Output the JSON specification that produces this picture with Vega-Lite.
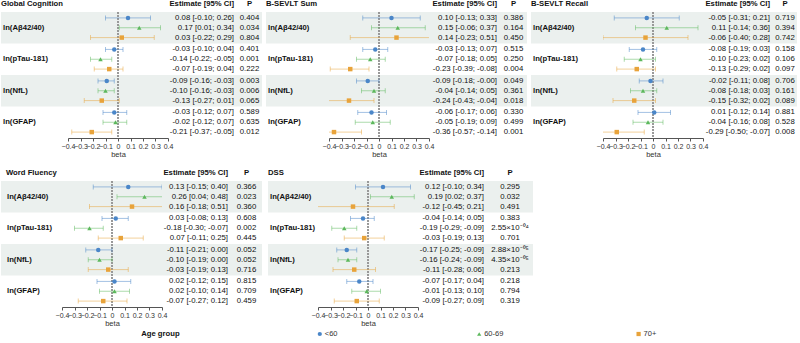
{
"$schema": "https://vega.github.io/schema/vega-lite/v6.json",
"padding": {"left": 1, "top": 0, "right": 0, "bottom": 0},
"data": {"values": [
{"panel":"Global Cognition","marker":"ln(Aβ42/40)","age":"<60","est":0.08,"lo":-0.10,"hi":0.26,"ci":"0.08 [-0.10; 0.26]","p":"0.404"},
{"panel":"Global Cognition","marker":"ln(Aβ42/40)","age":"60-69","est":0.17,"lo":0.01,"hi":0.34,"ci":"0.17 [0.01; 0.34]","p":"0.034"},
{"panel":"Global Cognition","marker":"ln(Aβ42/40)","age":"70+","est":0.03,"lo":-0.22,"hi":0.29,"ci":"0.03 [-0.22; 0.29]","p":"0.804"},
{"panel":"Global Cognition","marker":"ln(pTau-181)","age":"<60","est":-0.03,"lo":-0.10,"hi":0.04,"ci":"-0.03 [-0.10; 0.04]","p":"0.401"},
{"panel":"Global Cognition","marker":"ln(pTau-181)","age":"60-69","est":-0.14,"lo":-0.22,"hi":-0.05,"ci":"-0.14 [-0.22; -0.05]","p":"0.001"},
{"panel":"Global Cognition","marker":"ln(pTau-181)","age":"70+","est":-0.07,"lo":-0.19,"hi":0.04,"ci":"-0.07 [-0.19; 0.04]","p":"0.222"},
{"panel":"Global Cognition","marker":"ln(NfL)","age":"<60","est":-0.09,"lo":-0.16,"hi":-0.03,"ci":"-0.09 [-0.16; -0.03]","p":"0.003"},
{"panel":"Global Cognition","marker":"ln(NfL)","age":"60-69","est":-0.10,"lo":-0.16,"hi":-0.03,"ci":"-0.10 [-0.16; -0.03]","p":"0.006"},
{"panel":"Global Cognition","marker":"ln(NfL)","age":"70+","est":-0.13,"lo":-0.27,"hi":0.01,"ci":"-0.13 [-0.27; 0.01]","p":"0.065"},
{"panel":"Global Cognition","marker":"ln(GFAP)","age":"<60","est":-0.03,"lo":-0.12,"hi":0.07,"ci":"-0.03 [-0.12; 0.07]","p":"0.589"},
{"panel":"Global Cognition","marker":"ln(GFAP)","age":"60-69","est":-0.02,"lo":-0.12,"hi":0.07,"ci":"-0.02 [-0.12; 0.07]","p":"0.635"},
{"panel":"Global Cognition","marker":"ln(GFAP)","age":"70+","est":-0.21,"lo":-0.37,"hi":-0.05,"ci":"-0.21 [-0.37; -0.05]","p":"0.012"},
{"panel":"B-SEVLT Sum","marker":"ln(Aβ42/40)","age":"<60","est":0.10,"lo":-0.13,"hi":0.33,"ci":"0.10 [-0.13; 0.33]","p":"0.386"},
{"panel":"B-SEVLT Sum","marker":"ln(Aβ42/40)","age":"60-69","est":0.15,"lo":-0.06,"hi":0.37,"ci":"0.15 [-0.06; 0.37]","p":"0.164"},
{"panel":"B-SEVLT Sum","marker":"ln(Aβ42/40)","age":"70+","est":0.14,"lo":-0.23,"hi":0.51,"ci":"0.14 [-0.23; 0.51]","p":"0.450"},
{"panel":"B-SEVLT Sum","marker":"ln(pTau-181)","age":"<60","est":-0.03,"lo":-0.13,"hi":0.07,"ci":"-0.03 [-0.13; 0.07]","p":"0.515"},
{"panel":"B-SEVLT Sum","marker":"ln(pTau-181)","age":"60-69","est":-0.07,"lo":-0.18,"hi":0.05,"ci":"-0.07 [-0.18; 0.05]","p":"0.250"},
{"panel":"B-SEVLT Sum","marker":"ln(pTau-181)","age":"70+","est":-0.23,"lo":-0.39,"hi":-0.08,"ci":"-0.23 [-0.39; -0.08]","p":"0.004"},
{"panel":"B-SEVLT Sum","marker":"ln(NfL)","age":"<60","est":-0.09,"lo":-0.18,"hi":-0.00,"ci":"-0.09 [-0.18; -0.00]","p":"0.049"},
{"panel":"B-SEVLT Sum","marker":"ln(NfL)","age":"60-69","est":-0.04,"lo":-0.14,"hi":0.05,"ci":"-0.04 [-0.14; 0.05]","p":"0.361"},
{"panel":"B-SEVLT Sum","marker":"ln(NfL)","age":"70+","est":-0.24,"lo":-0.43,"hi":-0.04,"ci":"-0.24 [-0.43; -0.04]","p":"0.018"},
{"panel":"B-SEVLT Sum","marker":"ln(GFAP)","age":"<60","est":-0.06,"lo":-0.17,"hi":0.06,"ci":"-0.06 [-0.17; 0.06]","p":"0.330"},
{"panel":"B-SEVLT Sum","marker":"ln(GFAP)","age":"60-69","est":-0.05,"lo":-0.19,"hi":0.09,"ci":"-0.05 [-0.19; 0.09]","p":"0.499"},
{"panel":"B-SEVLT Sum","marker":"ln(GFAP)","age":"70+","est":-0.36,"lo":-0.57,"hi":-0.14,"ci":"-0.36 [-0.57; -0.14]","p":"0.001"},
{"panel":"B-SEVLT Recall","marker":"ln(Aβ42/40)","age":"<60","est":-0.05,"lo":-0.31,"hi":0.21,"ci":"-0.05 [-0.31; 0.21]","p":"0.719"},
{"panel":"B-SEVLT Recall","marker":"ln(Aβ42/40)","age":"60-69","est":0.11,"lo":-0.14,"hi":0.36,"ci":"0.11 [-0.14; 0.36]","p":"0.394"},
{"panel":"B-SEVLT Recall","marker":"ln(Aβ42/40)","age":"70+","est":-0.06,"lo":-0.40,"hi":0.28,"ci":"-0.06 [-0.40; 0.28]","p":"0.742"},
{"panel":"B-SEVLT Recall","marker":"ln(pTau-181)","age":"<60","est":-0.08,"lo":-0.19,"hi":0.03,"ci":"-0.08 [-0.19; 0.03]","p":"0.158"},
{"panel":"B-SEVLT Recall","marker":"ln(pTau-181)","age":"60-69","est":-0.10,"lo":-0.23,"hi":0.02,"ci":"-0.10 [-0.23; 0.02]","p":"0.106"},
{"panel":"B-SEVLT Recall","marker":"ln(pTau-181)","age":"70+","est":-0.13,"lo":-0.29,"hi":0.02,"ci":"-0.13 [-0.29; 0.02]","p":"0.097"},
{"panel":"B-SEVLT Recall","marker":"ln(NfL)","age":"<60","est":-0.02,"lo":-0.11,"hi":0.08,"ci":"-0.02 [-0.11; 0.08]","p":"0.706"},
{"panel":"B-SEVLT Recall","marker":"ln(NfL)","age":"60-69","est":-0.08,"lo":-0.18,"hi":0.03,"ci":"-0.08 [-0.18; 0.03]","p":"0.161"},
{"panel":"B-SEVLT Recall","marker":"ln(NfL)","age":"70+","est":-0.15,"lo":-0.32,"hi":0.02,"ci":"-0.15 [-0.32; 0.02]","p":"0.089"},
{"panel":"B-SEVLT Recall","marker":"ln(GFAP)","age":"<60","est":0.01,"lo":-0.12,"hi":0.14,"ci":"0.01 [-0.12; 0.14]","p":"0.881"},
{"panel":"B-SEVLT Recall","marker":"ln(GFAP)","age":"60-69","est":-0.04,"lo":-0.16,"hi":0.08,"ci":"-0.04 [-0.16; 0.08]","p":"0.528"},
{"panel":"B-SEVLT Recall","marker":"ln(GFAP)","age":"70+","est":-0.29,"lo":-0.50,"hi":-0.07,"ci":"-0.29 [-0.50; -0.07]","p":"0.008"},
{"panel":"Word Fluency","marker":"ln(Aβ42/40)","age":"<60","est":0.13,"lo":-0.15,"hi":0.40,"ci":"0.13 [-0.15; 0.40]","p":"0.366"},
{"panel":"Word Fluency","marker":"ln(Aβ42/40)","age":"60-69","est":0.26,"lo":0.04,"hi":0.48,"ci":"0.26 [0.04; 0.48]","p":"0.023"},
{"panel":"Word Fluency","marker":"ln(Aβ42/40)","age":"70+","est":0.16,"lo":-0.18,"hi":0.51,"ci":"0.16 [-0.18; 0.51]","p":"0.360"},
{"panel":"Word Fluency","marker":"ln(pTau-181)","age":"<60","est":0.03,"lo":-0.08,"hi":0.13,"ci":"0.03 [-0.08; 0.13]","p":"0.608"},
{"panel":"Word Fluency","marker":"ln(pTau-181)","age":"60-69","est":-0.18,"lo":-0.30,"hi":-0.07,"ci":"-0.18 [-0.30; -0.07]","p":"0.002"},
{"panel":"Word Fluency","marker":"ln(pTau-181)","age":"70+","est":0.07,"lo":-0.11,"hi":0.25,"ci":"0.07 [-0.11; 0.25]","p":"0.445"},
{"panel":"Word Fluency","marker":"ln(NfL)","age":"<60","est":-0.11,"lo":-0.21,"hi":0.00,"ci":"-0.11 [-0.21; 0.00]","p":"0.052"},
{"panel":"Word Fluency","marker":"ln(NfL)","age":"60-69","est":-0.10,"lo":-0.19,"hi":0.00,"ci":"-0.10 [-0.19; 0.00]","p":"0.052"},
{"panel":"Word Fluency","marker":"ln(NfL)","age":"70+","est":-0.03,"lo":-0.19,"hi":0.13,"ci":"-0.03 [-0.19; 0.13]","p":"0.716"},
{"panel":"Word Fluency","marker":"ln(GFAP)","age":"<60","est":0.02,"lo":-0.12,"hi":0.15,"ci":"0.02 [-0.12; 0.15]","p":"0.815"},
{"panel":"Word Fluency","marker":"ln(GFAP)","age":"60-69","est":0.02,"lo":-0.10,"hi":0.14,"ci":"0.02 [-0.10; 0.14]","p":"0.709"},
{"panel":"Word Fluency","marker":"ln(GFAP)","age":"70+","est":-0.07,"lo":-0.27,"hi":0.12,"ci":"-0.07 [-0.27; 0.12]","p":"0.459"},
{"panel":"DSS","marker":"ln(Aβ42/40)","age":"<60","est":0.12,"lo":-0.10,"hi":0.34,"ci":"0.12 [-0.10; 0.34]","p":"0.295"},
{"panel":"DSS","marker":"ln(Aβ42/40)","age":"60-69","est":0.19,"lo":0.02,"hi":0.37,"ci":"0.19 [0.02; 0.37]","p":"0.032"},
{"panel":"DSS","marker":"ln(Aβ42/40)","age":"70+","est":-0.12,"lo":-0.45,"hi":0.21,"ci":"-0.12 [-0.45; 0.21]","p":"0.491"},
{"panel":"DSS","marker":"ln(pTau-181)","age":"<60","est":-0.04,"lo":-0.14,"hi":0.05,"ci":"-0.04 [-0.14; 0.05]","p":"0.383"},
{"panel":"DSS","marker":"ln(pTau-181)","age":"60-69","est":-0.19,"lo":-0.29,"hi":-0.09,"ci":"-0.19 [-0.29; -0.09]","p":"2.55×10⁻⁰⁴"},
{"panel":"DSS","marker":"ln(pTau-181)","age":"70+","est":-0.03,"lo":-0.19,"hi":0.13,"ci":"-0.03 [-0.19; 0.13]","p":"0.701"},
{"panel":"DSS","marker":"ln(NfL)","age":"<60","est":-0.17,"lo":-0.25,"hi":-0.09,"ci":"-0.17 [-0.25; -0.09]","p":"2.88×10⁻⁰⁵"},
{"panel":"DSS","marker":"ln(NfL)","age":"60-69","est":-0.16,"lo":-0.24,"hi":-0.09,"ci":"-0.16 [-0.24; -0.09]","p":"4.35×10⁻⁰⁵"},
{"panel":"DSS","marker":"ln(NfL)","age":"70+","est":-0.11,"lo":-0.28,"hi":0.06,"ci":"-0.11 [-0.28; 0.06]","p":"0.213"},
{"panel":"DSS","marker":"ln(GFAP)","age":"<60","est":-0.07,"lo":-0.17,"hi":0.04,"ci":"-0.07 [-0.17; 0.04]","p":"0.218"},
{"panel":"DSS","marker":"ln(GFAP)","age":"60-69","est":-0.01,"lo":-0.13,"hi":0.10,"ci":"-0.01 [-0.13; 0.10]","p":"0.794"},
{"panel":"DSS","marker":"ln(GFAP)","age":"70+","est":-0.09,"lo":-0.27,"hi":0.09,"ci":"-0.09 [-0.27; 0.09]","p":"0.319"}
]},
"spacing": 2,
"vconcat": [
{"spacing": 11, "vconcat": [
{"spacing": 4, "hconcat": [
 {"spacing": 0, "bounds": "flush", "hconcat": [
  {"width": 67, "height": 126, "title": {"text": "Global Cognition", "anchor": "start"},
   "transform": [{"filter": "datum.panel === 'Global Cognition' && datum.age === '60-69'"}],
   "layer": [
    {"transform": [{"filter": "datum.marker === 'ln(Aβ42/40)' || datum.marker === 'ln(NfL)'"}], "mark": {"type": "rect", "color": "#ebf0ee"},
     "encoding": {"x": {"datum": 0, "type": "quantitative", "scale": {"domain": [0, 1]}, "axis": null}, "x2": {"datum": 1}, "y": {"field": "marker", "type": "nominal", "scale": {"type": "band", "domain": ["ln(Aβ42/40)", "ln(pTau-181)", "ln(NfL)", "ln(GFAP)"], "paddingInner": 0, "paddingOuter": 0}, "axis": null}}},
    {"mark": {"type": "text", "align": "left", "dx": 2, "fontWeight": "bold", "fontSize": 7.7, "color": "#111"},
     "encoding": {"x": {"datum": 0, "type": "quantitative", "scale": {"domain": [0, 1]}, "axis": null}, "y": {"field": "marker", "type": "nominal", "scale": {"type": "band", "domain": ["ln(Aβ42/40)", "ln(pTau-181)", "ln(NfL)", "ln(GFAP)"], "paddingInner": 0, "paddingOuter": 0}, "axis": null}, "text": {"field": "marker"}}}
   ]},
  {"width": 100, "height": 126, "transform": [{"filter": "datum.panel === 'Global Cognition'"}],
   "layer": [
    {"transform": [{"filter": "datum.age === '<60' && (datum.marker === 'ln(Aβ42/40)' || datum.marker === 'ln(NfL)')"}], "mark": {"type": "rect", "color": "#ebf0ee"},
     "encoding": {"x": {"datum": -0.4, "type": "quantitative", "scale": {"domain": [-0.4, 0.4], "nice": false, "zero": false}, "axis": {"values": [-0.4, -0.3, -0.2, -0.1, 0, 0.1, 0.2, 0.3, 0.4], "title": "beta"}}, "x2": {"datum": 0.4}, "y": {"field": "marker", "type": "nominal", "scale": {"type": "band", "domain": ["ln(Aβ42/40)", "ln(pTau-181)", "ln(NfL)", "ln(GFAP)"], "paddingInner": 0, "paddingOuter": 0}, "axis": null}}},
    {"mark": {"type": "rule", "color": "#999", "strokeDash": [1.5, 1.5], "strokeWidth": 0.9}, "encoding": {"x": {"datum": 0, "type": "quantitative", "scale": {"domain": [-0.4, 0.4], "nice": false, "zero": false}, "axis": {"values": [-0.4, -0.3, -0.2, -0.1, 0, 0.1, 0.2, 0.3, 0.4], "title": "beta"}}}},
    {"mark": {"type": "rule", "clip": true, "opacity": 0.5, "strokeWidth": 1},
     "encoding": {"x": {"field": "lo", "type": "quantitative", "scale": {"domain": [-0.4, 0.4], "nice": false, "zero": false}, "axis": {"values": [-0.4, -0.3, -0.2, -0.1, 0, 0.1, 0.2, 0.3, 0.4], "title": "beta"}}, "x2": {"field": "hi"},
      "y": {"field": "marker", "type": "nominal", "scale": {"type": "band", "domain": ["ln(Aβ42/40)", "ln(pTau-181)", "ln(NfL)", "ln(GFAP)"], "paddingInner": 0, "paddingOuter": 0}, "axis": null},
      "yOffset": {"field": "age", "type": "nominal", "scale": {"domain": ["<60", "60-69", "70+"], "paddingOuter": 0.1}},
      "stroke": {"field": "age", "type": "nominal", "scale": {"domain": ["<60", "60-69", "70+"], "range": ["#4a86c8", "#5cb85c", "#e8a33a"]}, "legend": null}}},
    {"mark": {"type": "tick", "clip": true, "opacity": 0.5, "thickness": 1, "size": 5},
     "encoding": {"x": {"field": "lo", "type": "quantitative", "scale": {"domain": [-0.4, 0.4], "nice": false, "zero": false}, "axis": {"values": [-0.4, -0.3, -0.2, -0.1, 0, 0.1, 0.2, 0.3, 0.4], "title": "beta"}}, "y": {"field": "marker", "type": "nominal", "scale": {"type": "band", "domain": ["ln(Aβ42/40)", "ln(pTau-181)", "ln(NfL)", "ln(GFAP)"], "paddingInner": 0, "paddingOuter": 0}, "axis": null},
      "yOffset": {"field": "age", "type": "nominal"}, "fill": {"field": "age", "type": "nominal", "scale": {"domain": ["<60", "60-69", "70+"], "range": ["#4a86c8", "#5cb85c", "#e8a33a"]}, "legend": null}}},
    {"mark": {"type": "tick", "clip": true, "opacity": 0.5, "thickness": 1, "size": 5},
     "encoding": {"x": {"field": "hi", "type": "quantitative", "scale": {"domain": [-0.4, 0.4], "nice": false, "zero": false}, "axis": {"values": [-0.4, -0.3, -0.2, -0.1, 0, 0.1, 0.2, 0.3, 0.4], "title": "beta"}}, "y": {"field": "marker", "type": "nominal", "scale": {"type": "band", "domain": ["ln(Aβ42/40)", "ln(pTau-181)", "ln(NfL)", "ln(GFAP)"], "paddingInner": 0, "paddingOuter": 0}, "axis": null},
      "yOffset": {"field": "age", "type": "nominal"}, "fill": {"field": "age", "type": "nominal", "legend": null}}},
    {"mark": {"type": "point", "filled": true, "opacity": 1, "size": 20},
     "encoding": {"x": {"field": "est", "type": "quantitative", "scale": {"domain": [-0.4, 0.4], "nice": false, "zero": false}, "axis": {"values": [-0.4, -0.3, -0.2, -0.1, 0, 0.1, 0.2, 0.3, 0.4], "title": "beta"}}, "y": {"field": "marker", "type": "nominal", "scale": {"type": "band", "domain": ["ln(Aβ42/40)", "ln(pTau-181)", "ln(NfL)", "ln(GFAP)"], "paddingInner": 0, "paddingOuter": 0}, "axis": null},
      "yOffset": {"field": "age", "type": "nominal"},
      "color": {"field": "age", "type": "nominal", "scale": {"domain": ["<60", "60-69", "70+"], "range": ["#4a86c8", "#5cb85c", "#e8a33a"]}, "legend": null},
      "shape": {"field": "age", "type": "nominal", "scale": {"domain": ["<60", "60-69", "70+"], "range": ["circle", "triangle-up", "square"]}, "legend": null}}}
   ]},
  {"width": 69, "height": 126, "title": {"text": "Estimate [95% CI]", "anchor": "end", "dx": -3}, "transform": [{"filter": "datum.panel === 'Global Cognition'"}],
   "layer": [
    {"transform": [{"filter": "datum.age === '<60' && (datum.marker === 'ln(Aβ42/40)' || datum.marker === 'ln(NfL)')"}], "mark": {"type": "rect", "color": "#ebf0ee"},
     "encoding": {"x": {"datum": 0, "type": "quantitative", "scale": {"domain": [0, 1]}, "axis": null}, "x2": {"datum": 1}, "y": {"field": "marker", "type": "nominal", "scale": {"type": "band", "domain": ["ln(Aβ42/40)", "ln(pTau-181)", "ln(NfL)", "ln(GFAP)"], "paddingInner": 0, "paddingOuter": 0}, "axis": null}}},
    {"mark": {"type": "text", "align": "right", "dx": -3, "fontSize": 7.8, "color": "#111"},
     "encoding": {"x": {"datum": 1, "type": "quantitative", "scale": {"domain": [0, 1]}, "axis": null}, "y": {"field": "marker", "type": "nominal", "scale": {"type": "band", "domain": ["ln(Aβ42/40)", "ln(pTau-181)", "ln(NfL)", "ln(GFAP)"], "paddingInner": 0, "paddingOuter": 0}, "axis": null}, "yOffset": {"field": "age", "type": "nominal"}, "text": {"field": "ci"}}}
   ]},
  {"width": 25, "height": 126, "title": {"text": "P", "anchor": "middle"}, "transform": [{"filter": "datum.panel === 'Global Cognition'"}],
   "layer": [
    {"transform": [{"filter": "datum.age === '<60' && (datum.marker === 'ln(Aβ42/40)' || datum.marker === 'ln(NfL)')"}], "mark": {"type": "rect", "color": "#ebf0ee"},
     "encoding": {"x": {"datum": 0, "type": "quantitative", "scale": {"domain": [0, 1]}, "axis": null}, "x2": {"datum": 1}, "y": {"field": "marker", "type": "nominal", "scale": {"type": "band", "domain": ["ln(Aβ42/40)", "ln(pTau-181)", "ln(NfL)", "ln(GFAP)"], "paddingInner": 0, "paddingOuter": 0}, "axis": null}}},
    {"mark": {"type": "text", "align": "center", "fontSize": 7.8, "color": "#111"},
     "encoding": {"x": {"datum": 0.5, "type": "quantitative", "scale": {"domain": [0, 1]}, "axis": null}, "y": {"field": "marker", "type": "nominal", "scale": {"type": "band", "domain": ["ln(Aβ42/40)", "ln(pTau-181)", "ln(NfL)", "ln(GFAP)"], "paddingInner": 0, "paddingOuter": 0}, "axis": null}, "yOffset": {"field": "age", "type": "nominal"}, "text": {"field": "p"}}}
   ]}
 ]},
 {"spacing": 0, "bounds": "flush", "hconcat": [
  {"width": 63, "height": 126, "title": {"text": "B-SEVLT Sum", "anchor": "start"},
   "transform": [{"filter": "datum.panel === 'B-SEVLT Sum' && datum.age === '60-69'"}],
   "layer": [
    {"transform": [{"filter": "datum.marker === 'ln(Aβ42/40)' || datum.marker === 'ln(NfL)'"}], "mark": {"type": "rect", "color": "#ebf0ee"},
     "encoding": {"x": {"datum": 0, "type": "quantitative", "scale": {"domain": [0, 1]}, "axis": null}, "x2": {"datum": 1}, "y": {"field": "marker", "type": "nominal", "scale": {"type": "band", "domain": ["ln(Aβ42/40)", "ln(pTau-181)", "ln(NfL)", "ln(GFAP)"], "paddingInner": 0, "paddingOuter": 0}, "axis": null}}},
    {"mark": {"type": "text", "align": "left", "dx": 2, "fontWeight": "bold", "fontSize": 7.7, "color": "#111"},
     "encoding": {"x": {"datum": 0, "type": "quantitative", "scale": {"domain": [0, 1]}, "axis": null}, "y": {"field": "marker", "type": "nominal", "scale": {"type": "band", "domain": ["ln(Aβ42/40)", "ln(pTau-181)", "ln(NfL)", "ln(GFAP)"], "paddingInner": 0, "paddingOuter": 0}, "axis": null}, "text": {"field": "marker"}}}
   ]},
  {"width": 100, "height": 126, "transform": [{"filter": "datum.panel === 'B-SEVLT Sum'"}],
   "layer": [
    {"transform": [{"filter": "datum.age === '<60' && (datum.marker === 'ln(Aβ42/40)' || datum.marker === 'ln(NfL)')"}], "mark": {"type": "rect", "color": "#ebf0ee"},
     "encoding": {"x": {"datum": -0.4, "type": "quantitative", "scale": {"domain": [-0.4, 0.4], "nice": false, "zero": false}, "axis": {"values": [-0.4, -0.3, -0.2, -0.1, 0, 0.1, 0.2, 0.3, 0.4], "title": "beta"}}, "x2": {"datum": 0.4}, "y": {"field": "marker", "type": "nominal", "scale": {"type": "band", "domain": ["ln(Aβ42/40)", "ln(pTau-181)", "ln(NfL)", "ln(GFAP)"], "paddingInner": 0, "paddingOuter": 0}, "axis": null}}},
    {"mark": {"type": "rule", "color": "#999", "strokeDash": [1.5, 1.5], "strokeWidth": 0.9}, "encoding": {"x": {"datum": 0, "type": "quantitative", "scale": {"domain": [-0.4, 0.4], "nice": false, "zero": false}, "axis": {"values": [-0.4, -0.3, -0.2, -0.1, 0, 0.1, 0.2, 0.3, 0.4], "title": "beta"}}}},
    {"mark": {"type": "rule", "clip": true, "opacity": 0.5, "strokeWidth": 1},
     "encoding": {"x": {"field": "lo", "type": "quantitative", "scale": {"domain": [-0.4, 0.4], "nice": false, "zero": false}, "axis": {"values": [-0.4, -0.3, -0.2, -0.1, 0, 0.1, 0.2, 0.3, 0.4], "title": "beta"}}, "x2": {"field": "hi"},
      "y": {"field": "marker", "type": "nominal", "scale": {"type": "band", "domain": ["ln(Aβ42/40)", "ln(pTau-181)", "ln(NfL)", "ln(GFAP)"], "paddingInner": 0, "paddingOuter": 0}, "axis": null},
      "yOffset": {"field": "age", "type": "nominal", "scale": {"domain": ["<60", "60-69", "70+"], "paddingOuter": 0.1}},
      "stroke": {"field": "age", "type": "nominal", "scale": {"domain": ["<60", "60-69", "70+"], "range": ["#4a86c8", "#5cb85c", "#e8a33a"]}, "legend": null}}},
    {"mark": {"type": "tick", "clip": true, "opacity": 0.5, "thickness": 1, "size": 5},
     "encoding": {"x": {"field": "lo", "type": "quantitative", "scale": {"domain": [-0.4, 0.4], "nice": false, "zero": false}, "axis": {"values": [-0.4, -0.3, -0.2, -0.1, 0, 0.1, 0.2, 0.3, 0.4], "title": "beta"}}, "y": {"field": "marker", "type": "nominal", "scale": {"type": "band", "domain": ["ln(Aβ42/40)", "ln(pTau-181)", "ln(NfL)", "ln(GFAP)"], "paddingInner": 0, "paddingOuter": 0}, "axis": null},
      "yOffset": {"field": "age", "type": "nominal"}, "fill": {"field": "age", "type": "nominal", "scale": {"domain": ["<60", "60-69", "70+"], "range": ["#4a86c8", "#5cb85c", "#e8a33a"]}, "legend": null}}},
    {"mark": {"type": "tick", "clip": true, "opacity": 0.5, "thickness": 1, "size": 5},
     "encoding": {"x": {"field": "hi", "type": "quantitative", "scale": {"domain": [-0.4, 0.4], "nice": false, "zero": false}, "axis": {"values": [-0.4, -0.3, -0.2, -0.1, 0, 0.1, 0.2, 0.3, 0.4], "title": "beta"}}, "y": {"field": "marker", "type": "nominal", "scale": {"type": "band", "domain": ["ln(Aβ42/40)", "ln(pTau-181)", "ln(NfL)", "ln(GFAP)"], "paddingInner": 0, "paddingOuter": 0}, "axis": null},
      "yOffset": {"field": "age", "type": "nominal"}, "fill": {"field": "age", "type": "nominal", "legend": null}}},
    {"mark": {"type": "point", "filled": true, "opacity": 1, "size": 20},
     "encoding": {"x": {"field": "est", "type": "quantitative", "scale": {"domain": [-0.4, 0.4], "nice": false, "zero": false}, "axis": {"values": [-0.4, -0.3, -0.2, -0.1, 0, 0.1, 0.2, 0.3, 0.4], "title": "beta"}}, "y": {"field": "marker", "type": "nominal", "scale": {"type": "band", "domain": ["ln(Aβ42/40)", "ln(pTau-181)", "ln(NfL)", "ln(GFAP)"], "paddingInner": 0, "paddingOuter": 0}, "axis": null},
      "yOffset": {"field": "age", "type": "nominal"},
      "color": {"field": "age", "type": "nominal", "legend": null},
      "shape": {"field": "age", "type": "nominal", "legend": null}}}
   ]},
  {"width": 71, "height": 126, "title": {"text": "Estimate [95% CI]", "anchor": "end", "dx": -3}, "transform": [{"filter": "datum.panel === 'B-SEVLT Sum'"}],
   "layer": [
    {"transform": [{"filter": "datum.age === '<60' && (datum.marker === 'ln(Aβ42/40)' || datum.marker === 'ln(NfL)')"}], "mark": {"type": "rect", "color": "#ebf0ee"},
     "encoding": {"x": {"datum": 0, "type": "quantitative", "scale": {"domain": [0, 1]}, "axis": null}, "x2": {"datum": 1}, "y": {"field": "marker", "type": "nominal", "scale": {"type": "band", "domain": ["ln(Aβ42/40)", "ln(pTau-181)", "ln(NfL)", "ln(GFAP)"], "paddingInner": 0, "paddingOuter": 0}, "axis": null}}},
    {"mark": {"type": "text", "align": "right", "dx": -3, "fontSize": 7.8, "color": "#111"},
     "encoding": {"x": {"datum": 1, "type": "quantitative", "scale": {"domain": [0, 1]}, "axis": null}, "y": {"field": "marker", "type": "nominal", "scale": {"type": "band", "domain": ["ln(Aβ42/40)", "ln(pTau-181)", "ln(NfL)", "ln(GFAP)"], "paddingInner": 0, "paddingOuter": 0}, "axis": null}, "yOffset": {"field": "age", "type": "nominal"}, "text": {"field": "ci"}}}
   ]},
  {"width": 27, "height": 126, "title": {"text": "P", "anchor": "middle"}, "transform": [{"filter": "datum.panel === 'B-SEVLT Sum'"}],
   "layer": [
    {"transform": [{"filter": "datum.age === '<60' && (datum.marker === 'ln(Aβ42/40)' || datum.marker === 'ln(NfL)')"}], "mark": {"type": "rect", "color": "#ebf0ee"},
     "encoding": {"x": {"datum": 0, "type": "quantitative", "scale": {"domain": [0, 1]}, "axis": null}, "x2": {"datum": 1}, "y": {"field": "marker", "type": "nominal", "scale": {"type": "band", "domain": ["ln(Aβ42/40)", "ln(pTau-181)", "ln(NfL)", "ln(GFAP)"], "paddingInner": 0, "paddingOuter": 0}, "axis": null}}},
    {"mark": {"type": "text", "align": "center", "fontSize": 7.8, "color": "#111"},
     "encoding": {"x": {"datum": 0.5, "type": "quantitative", "scale": {"domain": [0, 1]}, "axis": null}, "y": {"field": "marker", "type": "nominal", "scale": {"type": "band", "domain": ["ln(Aβ42/40)", "ln(pTau-181)", "ln(NfL)", "ln(GFAP)"], "paddingInner": 0, "paddingOuter": 0}, "axis": null}, "yOffset": {"field": "age", "type": "nominal"}, "text": {"field": "p"}}}
   ]}
 ]},
 {"spacing": 0, "bounds": "flush", "hconcat": [
  {"width": 72, "height": 126, "title": {"text": "B-SEVLT Recall", "anchor": "start"},
   "transform": [{"filter": "datum.panel === 'B-SEVLT Recall' && datum.age === '60-69'"}],
   "layer": [
    {"transform": [{"filter": "datum.marker === 'ln(Aβ42/40)' || datum.marker === 'ln(NfL)'"}], "mark": {"type": "rect", "color": "#ebf0ee"},
     "encoding": {"x": {"datum": 0, "type": "quantitative", "scale": {"domain": [0, 1]}, "axis": null}, "x2": {"datum": 1}, "y": {"field": "marker", "type": "nominal", "scale": {"type": "band", "domain": ["ln(Aβ42/40)", "ln(pTau-181)", "ln(NfL)", "ln(GFAP)"], "paddingInner": 0, "paddingOuter": 0}, "axis": null}}},
    {"mark": {"type": "text", "align": "left", "dx": 2, "fontWeight": "bold", "fontSize": 7.7, "color": "#111"},
     "encoding": {"x": {"datum": 0, "type": "quantitative", "scale": {"domain": [0, 1]}, "axis": null}, "y": {"field": "marker", "type": "nominal", "scale": {"type": "band", "domain": ["ln(Aβ42/40)", "ln(pTau-181)", "ln(NfL)", "ln(GFAP)"], "paddingInner": 0, "paddingOuter": 0}, "axis": null}, "text": {"field": "marker"}}}
   ]},
  {"width": 100, "height": 126, "transform": [{"filter": "datum.panel === 'B-SEVLT Recall'"}],
   "layer": [
    {"transform": [{"filter": "datum.age === '<60' && (datum.marker === 'ln(Aβ42/40)' || datum.marker === 'ln(NfL)')"}], "mark": {"type": "rect", "color": "#ebf0ee"},
     "encoding": {"x": {"datum": -0.4, "type": "quantitative", "scale": {"domain": [-0.4, 0.4], "nice": false, "zero": false}, "axis": {"values": [-0.4, -0.3, -0.2, -0.1, 0, 0.1, 0.2, 0.3, 0.4], "title": "beta"}}, "x2": {"datum": 0.4}, "y": {"field": "marker", "type": "nominal", "scale": {"type": "band", "domain": ["ln(Aβ42/40)", "ln(pTau-181)", "ln(NfL)", "ln(GFAP)"], "paddingInner": 0, "paddingOuter": 0}, "axis": null}}},
    {"mark": {"type": "rule", "color": "#999", "strokeDash": [1.5, 1.5], "strokeWidth": 0.9}, "encoding": {"x": {"datum": 0, "type": "quantitative", "scale": {"domain": [-0.4, 0.4], "nice": false, "zero": false}, "axis": {"values": [-0.4, -0.3, -0.2, -0.1, 0, 0.1, 0.2, 0.3, 0.4], "title": "beta"}}}},
    {"mark": {"type": "rule", "clip": true, "opacity": 0.5, "strokeWidth": 1},
     "encoding": {"x": {"field": "lo", "type": "quantitative", "scale": {"domain": [-0.4, 0.4], "nice": false, "zero": false}, "axis": {"values": [-0.4, -0.3, -0.2, -0.1, 0, 0.1, 0.2, 0.3, 0.4], "title": "beta"}}, "x2": {"field": "hi"},
      "y": {"field": "marker", "type": "nominal", "scale": {"type": "band", "domain": ["ln(Aβ42/40)", "ln(pTau-181)", "ln(NfL)", "ln(GFAP)"], "paddingInner": 0, "paddingOuter": 0}, "axis": null},
      "yOffset": {"field": "age", "type": "nominal", "scale": {"domain": ["<60", "60-69", "70+"], "paddingOuter": 0.1}},
      "stroke": {"field": "age", "type": "nominal", "scale": {"domain": ["<60", "60-69", "70+"], "range": ["#4a86c8", "#5cb85c", "#e8a33a"]}, "legend": null}}},
    {"mark": {"type": "tick", "clip": true, "opacity": 0.5, "thickness": 1, "size": 5},
     "encoding": {"x": {"field": "lo", "type": "quantitative", "scale": {"domain": [-0.4, 0.4], "nice": false, "zero": false}, "axis": {"values": [-0.4, -0.3, -0.2, -0.1, 0, 0.1, 0.2, 0.3, 0.4], "title": "beta"}}, "y": {"field": "marker", "type": "nominal", "scale": {"type": "band", "domain": ["ln(Aβ42/40)", "ln(pTau-181)", "ln(NfL)", "ln(GFAP)"], "paddingInner": 0, "paddingOuter": 0}, "axis": null},
      "yOffset": {"field": "age", "type": "nominal"}, "fill": {"field": "age", "type": "nominal", "scale": {"domain": ["<60", "60-69", "70+"], "range": ["#4a86c8", "#5cb85c", "#e8a33a"]}, "legend": null}}},
    {"mark": {"type": "tick", "clip": true, "opacity": 0.5, "thickness": 1, "size": 5},
     "encoding": {"x": {"field": "hi", "type": "quantitative", "scale": {"domain": [-0.4, 0.4], "nice": false, "zero": false}, "axis": {"values": [-0.4, -0.3, -0.2, -0.1, 0, 0.1, 0.2, 0.3, 0.4], "title": "beta"}}, "y": {"field": "marker", "type": "nominal", "scale": {"type": "band", "domain": ["ln(Aβ42/40)", "ln(pTau-181)", "ln(NfL)", "ln(GFAP)"], "paddingInner": 0, "paddingOuter": 0}, "axis": null},
      "yOffset": {"field": "age", "type": "nominal"}, "fill": {"field": "age", "type": "nominal", "legend": null}}},
    {"mark": {"type": "point", "filled": true, "opacity": 1, "size": 20},
     "encoding": {"x": {"field": "est", "type": "quantitative", "scale": {"domain": [-0.4, 0.4], "nice": false, "zero": false}, "axis": {"values": [-0.4, -0.3, -0.2, -0.1, 0, 0.1, 0.2, 0.3, 0.4], "title": "beta"}}, "y": {"field": "marker", "type": "nominal", "scale": {"type": "band", "domain": ["ln(Aβ42/40)", "ln(pTau-181)", "ln(NfL)", "ln(GFAP)"], "paddingInner": 0, "paddingOuter": 0}, "axis": null},
      "yOffset": {"field": "age", "type": "nominal"},
      "color": {"field": "age", "type": "nominal", "legend": null},
      "shape": {"field": "age", "type": "nominal", "legend": null}}}
   ]},
  {"width": 70, "height": 126, "title": {"text": "Estimate [95% CI]", "anchor": "end", "dx": -3}, "transform": [{"filter": "datum.panel === 'B-SEVLT Recall'"}],
   "layer": [
    {"transform": [{"filter": "datum.age === '<60' && (datum.marker === 'ln(Aβ42/40)' || datum.marker === 'ln(NfL)')"}], "mark": {"type": "rect", "color": "#ebf0ee"},
     "encoding": {"x": {"datum": 0, "type": "quantitative", "scale": {"domain": [0, 1]}, "axis": null}, "x2": {"datum": 1}, "y": {"field": "marker", "type": "nominal", "scale": {"type": "band", "domain": ["ln(Aβ42/40)", "ln(pTau-181)", "ln(NfL)", "ln(GFAP)"], "paddingInner": 0, "paddingOuter": 0}, "axis": null}}},
    {"mark": {"type": "text", "align": "right", "dx": -3, "fontSize": 7.8, "color": "#111"},
     "encoding": {"x": {"datum": 1, "type": "quantitative", "scale": {"domain": [0, 1]}, "axis": null}, "y": {"field": "marker", "type": "nominal", "scale": {"type": "band", "domain": ["ln(Aβ42/40)", "ln(pTau-181)", "ln(NfL)", "ln(GFAP)"], "paddingInner": 0, "paddingOuter": 0}, "axis": null}, "yOffset": {"field": "age", "type": "nominal"}, "text": {"field": "ci"}}}
   ]},
  {"width": 24, "height": 126, "title": {"text": "P", "anchor": "middle"}, "transform": [{"filter": "datum.panel === 'B-SEVLT Recall'"}],
   "layer": [
    {"transform": [{"filter": "datum.age === '<60' && (datum.marker === 'ln(Aβ42/40)' || datum.marker === 'ln(NfL)')"}], "mark": {"type": "rect", "color": "#ebf0ee"},
     "encoding": {"x": {"datum": 0, "type": "quantitative", "scale": {"domain": [0, 1]}, "axis": null}, "x2": {"datum": 1}, "y": {"field": "marker", "type": "nominal", "scale": {"type": "band", "domain": ["ln(Aβ42/40)", "ln(pTau-181)", "ln(NfL)", "ln(GFAP)"], "paddingInner": 0, "paddingOuter": 0}, "axis": null}}},
    {"mark": {"type": "text", "align": "center", "fontSize": 7.8, "color": "#111"},
     "encoding": {"x": {"datum": 0.5, "type": "quantitative", "scale": {"domain": [0, 1]}, "axis": null}, "y": {"field": "marker", "type": "nominal", "scale": {"type": "band", "domain": ["ln(Aβ42/40)", "ln(pTau-181)", "ln(NfL)", "ln(GFAP)"], "paddingInner": 0, "paddingOuter": 0}, "axis": null}, "yOffset": {"field": "age", "type": "nominal"}, "text": {"field": "p"}}}
   ]}
 ]}
]},
{"spacing": 6, "hconcat": [
 {"spacing": 0, "bounds": "flush", "hconcat": [
  {"width": 61, "height": 126, "title": {"text": "Word Fluency", "anchor": "start", "dx": 5},
   "transform": [{"filter": "datum.panel === 'Word Fluency' && datum.age === '60-69'"}],
   "layer": [
    {"transform": [{"filter": "datum.marker === 'ln(Aβ42/40)' || datum.marker === 'ln(NfL)'"}], "mark": {"type": "rect", "color": "#ebf0ee"},
     "encoding": {"x": {"datum": 0, "type": "quantitative", "scale": {"domain": [0, 1]}, "axis": null}, "x2": {"datum": 1}, "y": {"field": "marker", "type": "nominal", "scale": {"type": "band", "domain": ["ln(Aβ42/40)", "ln(pTau-181)", "ln(NfL)", "ln(GFAP)"], "paddingInner": 0, "paddingOuter": 0}, "axis": null}}},
    {"mark": {"type": "text", "align": "left", "dx": 6, "fontWeight": "bold", "fontSize": 7.7, "color": "#111"},
     "encoding": {"x": {"datum": 0, "type": "quantitative", "scale": {"domain": [0, 1]}, "axis": null}, "y": {"field": "marker", "type": "nominal", "scale": {"type": "band", "domain": ["ln(Aβ42/40)", "ln(pTau-181)", "ln(NfL)", "ln(GFAP)"], "paddingInner": 0, "paddingOuter": 0}, "axis": null}, "text": {"field": "marker"}}}
   ]},
  {"width": 100, "height": 126, "transform": [{"filter": "datum.panel === 'Word Fluency'"}],
   "layer": [
    {"transform": [{"filter": "datum.age === '<60' && (datum.marker === 'ln(Aβ42/40)' || datum.marker === 'ln(NfL)')"}], "mark": {"type": "rect", "color": "#ebf0ee"},
     "encoding": {"x": {"datum": -0.4, "type": "quantitative", "scale": {"domain": [-0.4, 0.4], "nice": false, "zero": false}, "axis": {"values": [-0.4, -0.3, -0.2, -0.1, 0, 0.1, 0.2, 0.3, 0.4], "title": "beta"}}, "x2": {"datum": 0.4}, "y": {"field": "marker", "type": "nominal", "scale": {"type": "band", "domain": ["ln(Aβ42/40)", "ln(pTau-181)", "ln(NfL)", "ln(GFAP)"], "paddingInner": 0, "paddingOuter": 0}, "axis": null}}},
    {"mark": {"type": "rule", "color": "#999", "strokeDash": [1.5, 1.5], "strokeWidth": 0.9}, "encoding": {"x": {"datum": 0, "type": "quantitative", "scale": {"domain": [-0.4, 0.4], "nice": false, "zero": false}, "axis": {"values": [-0.4, -0.3, -0.2, -0.1, 0, 0.1, 0.2, 0.3, 0.4], "title": "beta"}}}},
    {"mark": {"type": "rule", "clip": true, "opacity": 0.5, "strokeWidth": 1},
     "encoding": {"x": {"field": "lo", "type": "quantitative", "scale": {"domain": [-0.4, 0.4], "nice": false, "zero": false}, "axis": {"values": [-0.4, -0.3, -0.2, -0.1, 0, 0.1, 0.2, 0.3, 0.4], "title": "beta"}}, "x2": {"field": "hi"},
      "y": {"field": "marker", "type": "nominal", "scale": {"type": "band", "domain": ["ln(Aβ42/40)", "ln(pTau-181)", "ln(NfL)", "ln(GFAP)"], "paddingInner": 0, "paddingOuter": 0}, "axis": null},
      "yOffset": {"field": "age", "type": "nominal", "scale": {"domain": ["<60", "60-69", "70+"], "paddingOuter": 0.1}},
      "stroke": {"field": "age", "type": "nominal", "scale": {"domain": ["<60", "60-69", "70+"], "range": ["#4a86c8", "#5cb85c", "#e8a33a"]}, "legend": null}}},
    {"mark": {"type": "tick", "clip": true, "opacity": 0.5, "thickness": 1, "size": 5},
     "encoding": {"x": {"field": "lo", "type": "quantitative", "scale": {"domain": [-0.4, 0.4], "nice": false, "zero": false}, "axis": {"values": [-0.4, -0.3, -0.2, -0.1, 0, 0.1, 0.2, 0.3, 0.4], "title": "beta"}}, "y": {"field": "marker", "type": "nominal", "scale": {"type": "band", "domain": ["ln(Aβ42/40)", "ln(pTau-181)", "ln(NfL)", "ln(GFAP)"], "paddingInner": 0, "paddingOuter": 0}, "axis": null},
      "yOffset": {"field": "age", "type": "nominal"}, "fill": {"field": "age", "type": "nominal", "scale": {"domain": ["<60", "60-69", "70+"], "range": ["#4a86c8", "#5cb85c", "#e8a33a"]}, "legend": null}}},
    {"mark": {"type": "tick", "clip": true, "opacity": 0.5, "thickness": 1, "size": 5},
     "encoding": {"x": {"field": "hi", "type": "quantitative", "scale": {"domain": [-0.4, 0.4], "nice": false, "zero": false}, "axis": {"values": [-0.4, -0.3, -0.2, -0.1, 0, 0.1, 0.2, 0.3, 0.4], "title": "beta"}}, "y": {"field": "marker", "type": "nominal", "scale": {"type": "band", "domain": ["ln(Aβ42/40)", "ln(pTau-181)", "ln(NfL)", "ln(GFAP)"], "paddingInner": 0, "paddingOuter": 0}, "axis": null},
      "yOffset": {"field": "age", "type": "nominal"}, "fill": {"field": "age", "type": "nominal", "legend": null}}},
    {"mark": {"type": "point", "filled": true, "opacity": 1, "size": 20},
     "encoding": {"x": {"field": "est", "type": "quantitative", "scale": {"domain": [-0.4, 0.4], "nice": false, "zero": false}, "axis": {"values": [-0.4, -0.3, -0.2, -0.1, 0, 0.1, 0.2, 0.3, 0.4], "title": "beta"}}, "y": {"field": "marker", "type": "nominal", "scale": {"type": "band", "domain": ["ln(Aβ42/40)", "ln(pTau-181)", "ln(NfL)", "ln(GFAP)"], "paddingInner": 0, "paddingOuter": 0}, "axis": null},
      "yOffset": {"field": "age", "type": "nominal"},
      "color": {"field": "age", "type": "nominal", "legend": null},
      "shape": {"field": "age", "type": "nominal", "legend": null}}}
   ]},
  {"width": 69, "height": 126, "title": {"text": "Estimate [95% CI]", "anchor": "end", "dx": -3}, "transform": [{"filter": "datum.panel === 'Word Fluency'"}],
   "layer": [
    {"transform": [{"filter": "datum.age === '<60' && (datum.marker === 'ln(Aβ42/40)' || datum.marker === 'ln(NfL)')"}], "mark": {"type": "rect", "color": "#ebf0ee"},
     "encoding": {"x": {"datum": 0, "type": "quantitative", "scale": {"domain": [0, 1]}, "axis": null}, "x2": {"datum": 1}, "y": {"field": "marker", "type": "nominal", "scale": {"type": "band", "domain": ["ln(Aβ42/40)", "ln(pTau-181)", "ln(NfL)", "ln(GFAP)"], "paddingInner": 0, "paddingOuter": 0}, "axis": null}}},
    {"mark": {"type": "text", "align": "right", "dx": -3, "fontSize": 7.8, "color": "#111"},
     "encoding": {"x": {"datum": 1, "type": "quantitative", "scale": {"domain": [0, 1]}, "axis": null}, "y": {"field": "marker", "type": "nominal", "scale": {"type": "band", "domain": ["ln(Aβ42/40)", "ln(pTau-181)", "ln(NfL)", "ln(GFAP)"], "paddingInner": 0, "paddingOuter": 0}, "axis": null}, "yOffset": {"field": "age", "type": "nominal"}, "text": {"field": "ci"}}}
   ]},
  {"width": 31, "height": 126, "title": {"text": "P", "anchor": "middle"}, "transform": [{"filter": "datum.panel === 'Word Fluency'"}],
   "layer": [
    {"transform": [{"filter": "datum.age === '<60' && (datum.marker === 'ln(Aβ42/40)' || datum.marker === 'ln(NfL)')"}], "mark": {"type": "rect", "color": "#ebf0ee"},
     "encoding": {"x": {"datum": 0, "type": "quantitative", "scale": {"domain": [0, 1]}, "axis": null}, "x2": {"datum": 1}, "y": {"field": "marker", "type": "nominal", "scale": {"type": "band", "domain": ["ln(Aβ42/40)", "ln(pTau-181)", "ln(NfL)", "ln(GFAP)"], "paddingInner": 0, "paddingOuter": 0}, "axis": null}}},
    {"mark": {"type": "text", "align": "center", "fontSize": 7.8, "color": "#111"},
     "encoding": {"x": {"datum": 0.5, "type": "quantitative", "scale": {"domain": [0, 1]}, "axis": null}, "y": {"field": "marker", "type": "nominal", "scale": {"type": "band", "domain": ["ln(Aβ42/40)", "ln(pTau-181)", "ln(NfL)", "ln(GFAP)"], "paddingInner": 0, "paddingOuter": 0}, "axis": null}, "yOffset": {"field": "age", "type": "nominal"}, "text": {"field": "p"}}}
   ]}
 ]},
 {"spacing": 0, "bounds": "flush", "hconcat": [
  {"width": 50, "height": 126, "title": {"text": "DSS", "anchor": "start"},
   "transform": [{"filter": "datum.panel === 'DSS' && datum.age === '60-69'"}],
   "layer": [
    {"transform": [{"filter": "datum.marker === 'ln(Aβ42/40)' || datum.marker === 'ln(NfL)'"}], "mark": {"type": "rect", "color": "#ebf0ee"},
     "encoding": {"x": {"datum": 0, "type": "quantitative", "scale": {"domain": [0, 1]}, "axis": null}, "x2": {"datum": 1}, "y": {"field": "marker", "type": "nominal", "scale": {"type": "band", "domain": ["ln(Aβ42/40)", "ln(pTau-181)", "ln(NfL)", "ln(GFAP)"], "paddingInner": 0, "paddingOuter": 0}, "axis": null}}},
    {"mark": {"type": "text", "align": "left", "dx": 2, "fontWeight": "bold", "fontSize": 7.7, "color": "#111"},
     "encoding": {"x": {"datum": 0, "type": "quantitative", "scale": {"domain": [0, 1]}, "axis": null}, "y": {"field": "marker", "type": "nominal", "scale": {"type": "band", "domain": ["ln(Aβ42/40)", "ln(pTau-181)", "ln(NfL)", "ln(GFAP)"], "paddingInner": 0, "paddingOuter": 0}, "axis": null}, "text": {"field": "marker"}}}
   ]},
  {"width": 100, "height": 126, "transform": [{"filter": "datum.panel === 'DSS'"}],
   "layer": [
    {"transform": [{"filter": "datum.age === '<60' && (datum.marker === 'ln(Aβ42/40)' || datum.marker === 'ln(NfL)')"}], "mark": {"type": "rect", "color": "#ebf0ee"},
     "encoding": {"x": {"datum": -0.4, "type": "quantitative", "scale": {"domain": [-0.4, 0.4], "nice": false, "zero": false}, "axis": {"values": [-0.4, -0.3, -0.2, -0.1, 0, 0.1, 0.2, 0.3, 0.4], "title": "beta"}}, "x2": {"datum": 0.4}, "y": {"field": "marker", "type": "nominal", "scale": {"type": "band", "domain": ["ln(Aβ42/40)", "ln(pTau-181)", "ln(NfL)", "ln(GFAP)"], "paddingInner": 0, "paddingOuter": 0}, "axis": null}}},
    {"mark": {"type": "rule", "color": "#999", "strokeDash": [1.5, 1.5], "strokeWidth": 0.9}, "encoding": {"x": {"datum": 0, "type": "quantitative", "scale": {"domain": [-0.4, 0.4], "nice": false, "zero": false}, "axis": {"values": [-0.4, -0.3, -0.2, -0.1, 0, 0.1, 0.2, 0.3, 0.4], "title": "beta"}}}},
    {"mark": {"type": "rule", "clip": true, "opacity": 0.5, "strokeWidth": 1},
     "encoding": {"x": {"field": "lo", "type": "quantitative", "scale": {"domain": [-0.4, 0.4], "nice": false, "zero": false}, "axis": {"values": [-0.4, -0.3, -0.2, -0.1, 0, 0.1, 0.2, 0.3, 0.4], "title": "beta"}}, "x2": {"field": "hi"},
      "y": {"field": "marker", "type": "nominal", "scale": {"type": "band", "domain": ["ln(Aβ42/40)", "ln(pTau-181)", "ln(NfL)", "ln(GFAP)"], "paddingInner": 0, "paddingOuter": 0}, "axis": null},
      "yOffset": {"field": "age", "type": "nominal", "scale": {"domain": ["<60", "60-69", "70+"], "paddingOuter": 0.1}},
      "stroke": {"field": "age", "type": "nominal", "scale": {"domain": ["<60", "60-69", "70+"], "range": ["#4a86c8", "#5cb85c", "#e8a33a"]}, "legend": null}}},
    {"mark": {"type": "tick", "clip": true, "opacity": 0.5, "thickness": 1, "size": 5},
     "encoding": {"x": {"field": "lo", "type": "quantitative", "scale": {"domain": [-0.4, 0.4], "nice": false, "zero": false}, "axis": {"values": [-0.4, -0.3, -0.2, -0.1, 0, 0.1, 0.2, 0.3, 0.4], "title": "beta"}}, "y": {"field": "marker", "type": "nominal", "scale": {"type": "band", "domain": ["ln(Aβ42/40)", "ln(pTau-181)", "ln(NfL)", "ln(GFAP)"], "paddingInner": 0, "paddingOuter": 0}, "axis": null},
      "yOffset": {"field": "age", "type": "nominal"}, "fill": {"field": "age", "type": "nominal", "scale": {"domain": ["<60", "60-69", "70+"], "range": ["#4a86c8", "#5cb85c", "#e8a33a"]}, "legend": null}}},
    {"mark": {"type": "tick", "clip": true, "opacity": 0.5, "thickness": 1, "size": 5},
     "encoding": {"x": {"field": "hi", "type": "quantitative", "scale": {"domain": [-0.4, 0.4], "nice": false, "zero": false}, "axis": {"values": [-0.4, -0.3, -0.2, -0.1, 0, 0.1, 0.2, 0.3, 0.4], "title": "beta"}}, "y": {"field": "marker", "type": "nominal", "scale": {"type": "band", "domain": ["ln(Aβ42/40)", "ln(pTau-181)", "ln(NfL)", "ln(GFAP)"], "paddingInner": 0, "paddingOuter": 0}, "axis": null},
      "yOffset": {"field": "age", "type": "nominal"}, "fill": {"field": "age", "type": "nominal", "legend": null}}},
    {"mark": {"type": "point", "filled": true, "opacity": 1, "size": 20},
     "encoding": {"x": {"field": "est", "type": "quantitative", "scale": {"domain": [-0.4, 0.4], "nice": false, "zero": false}, "axis": {"values": [-0.4, -0.3, -0.2, -0.1, 0, 0.1, 0.2, 0.3, 0.4], "title": "beta"}}, "y": {"field": "marker", "type": "nominal", "scale": {"type": "band", "domain": ["ln(Aβ42/40)", "ln(pTau-181)", "ln(NfL)", "ln(GFAP)"], "paddingInner": 0, "paddingOuter": 0}, "axis": null},
      "yOffset": {"field": "age", "type": "nominal"},
      "color": {"field": "age", "type": "nominal", "legend": null},
      "shape": {"field": "age", "type": "nominal", "legend": null}}}
   ]},
  {"width": 69, "height": 126, "title": {"text": "Estimate [95% CI]", "anchor": "end", "dx": -3}, "transform": [{"filter": "datum.panel === 'DSS'"}],
   "layer": [
    {"transform": [{"filter": "datum.age === '<60' && (datum.marker === 'ln(Aβ42/40)' || datum.marker === 'ln(NfL)')"}], "mark": {"type": "rect", "color": "#ebf0ee"},
     "encoding": {"x": {"datum": 0, "type": "quantitative", "scale": {"domain": [0, 1]}, "axis": null}, "x2": {"datum": 1}, "y": {"field": "marker", "type": "nominal", "scale": {"type": "band", "domain": ["ln(Aβ42/40)", "ln(pTau-181)", "ln(NfL)", "ln(GFAP)"], "paddingInner": 0, "paddingOuter": 0}, "axis": null}}},
    {"mark": {"type": "text", "align": "right", "dx": -3, "fontSize": 7.8, "color": "#111"},
     "encoding": {"x": {"datum": 1, "type": "quantitative", "scale": {"domain": [0, 1]}, "axis": null}, "y": {"field": "marker", "type": "nominal", "scale": {"type": "band", "domain": ["ln(Aβ42/40)", "ln(pTau-181)", "ln(NfL)", "ln(GFAP)"], "paddingInner": 0, "paddingOuter": 0}, "axis": null}, "yOffset": {"field": "age", "type": "nominal"}, "text": {"field": "ci"}}}
   ]},
  {"width": 46, "height": 126, "title": {"text": "P", "anchor": "middle"}, "transform": [{"filter": "datum.panel === 'DSS'"}],
   "layer": [
    {"transform": [{"filter": "datum.age === '<60' && (datum.marker === 'ln(Aβ42/40)' || datum.marker === 'ln(NfL)')"}], "mark": {"type": "rect", "color": "#ebf0ee"},
     "encoding": {"x": {"datum": 0, "type": "quantitative", "scale": {"domain": [0, 1]}, "axis": null}, "x2": {"datum": 1}, "y": {"field": "marker", "type": "nominal", "scale": {"type": "band", "domain": ["ln(Aβ42/40)", "ln(pTau-181)", "ln(NfL)", "ln(GFAP)"], "paddingInner": 0, "paddingOuter": 0}, "axis": null}}},
    {"mark": {"type": "text", "align": "center", "fontSize": 7.8, "color": "#111"},
     "encoding": {"x": {"datum": 0.5, "type": "quantitative", "scale": {"domain": [0, 1]}, "axis": null}, "y": {"field": "marker", "type": "nominal", "scale": {"type": "band", "domain": ["ln(Aβ42/40)", "ln(pTau-181)", "ln(NfL)", "ln(GFAP)"], "paddingInner": 0, "paddingOuter": 0}, "axis": null}, "yOffset": {"field": "age", "type": "nominal"}, "text": {"field": "p"}}}
   ]}
 ]}
]}
]},
{"width": 797, "height": 10,
 "transform": [{"filter": "datum.panel === 'DSS' && datum.marker === 'ln(GFAP)'"}],
 "layer": [
  {"transform": [{"filter": "datum.age === '<60'"}],
   "mark": {"type": "text", "align": "center", "fontWeight": "bold", "fontSize": 7.7, "color": "#111", "text": "Age group"},
   "encoding": {"x": {"datum": "Age group", "type": "nominal", "scale": {"type": "point", "domain": ["Age group", "<60", "60-69", "70+"], "padding": 13.8}, "axis": null}}},
  {"mark": {"type": "point", "filled": true, "opacity": 1, "size": 18},
   "encoding": {"x": {"field": "age", "type": "nominal", "scale": {"type": "point", "domain": ["Age group", "<60", "60-69", "70+"], "padding": 13.8}, "axis": null},
    "color": {"field": "age", "type": "nominal", "legend": null},
    "shape": {"field": "age", "type": "nominal", "legend": null}}},
  {"mark": {"type": "text", "align": "left", "dx": 5, "fontSize": 7.5, "color": "#333"},
   "encoding": {"x": {"field": "age", "type": "nominal", "scale": {"type": "point", "domain": ["Age group", "<60", "60-69", "70+"], "padding": 13.8}, "axis": null}, "text": {"field": "age"}}}
 ]}
],
"config": {
 "view": {"stroke": null},
 "font": "Liberation Sans",
 "title": {"fontSize": 7.7, "fontWeight": "bold", "color": "#111", "offset": 0},
 "axis": {"grid": false, "labelOverlap": false, "labelFlush": false, "format": ".1~f", "tickSize": 3, "labelPadding": 1.5, "titlePadding": 1, "labelFontSize": 7, "titleFontSize": 7.5, "titleFontWeight": "normal", "domainColor": "#555", "tickColor": "#555", "labelColor": "#333", "titleColor": "#333"}
}
}
